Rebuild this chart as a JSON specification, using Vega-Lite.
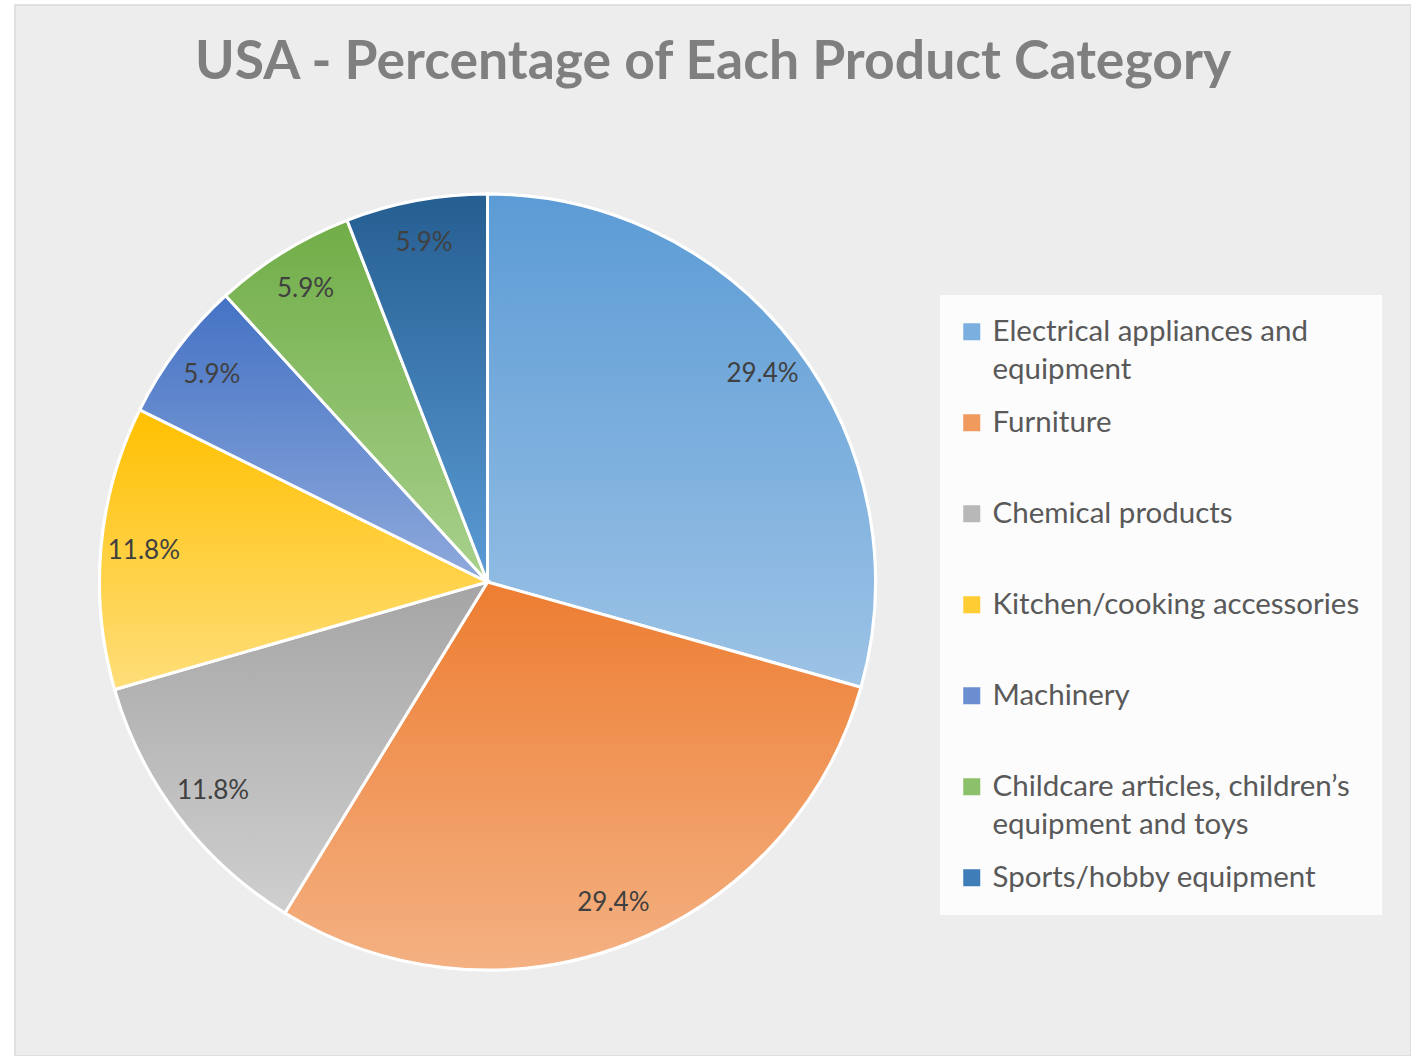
{
  "$schema": "https://vega.github.io/schema/vega-lite/v6.json",
  "width": 1396,
  "height": 1051,
  "autosize": {"type": "none"},
  "padding": {"left": 15, "top": 5, "right": 0, "bottom": 0},
  "background": "white",
  "config": {
    "view": {"fill": "#EDEDED", "stroke": "#D9D9D9", "strokeWidth": 1.5},
    "font": "Lato",
    "style": {"guide-label": {"dy": -19, "lineHeight": 38}}
  },
  "title": {
    "text": "USA - Percentage of Each Product Category",
    "orient": "top",
    "anchor": "middle",
    "frame": "group",
    "offset": -127,
    "baseline": "alphabetic",
    "fontSize": 53.5,
    "fontWeight": "bold",
    "color": "#7F7F7F",
    "font": "Lato"
  },
  "data": {
    "values": [
      {"category": "Electrical appliances and equipment", "share": 0.294, "rank": 1},
      {"category": "Furniture", "share": 0.294, "rank": 2},
      {"category": "Chemical products", "share": 0.118, "rank": 3},
      {"category": "Kitchen/cooking accessories", "share": 0.118, "rank": 4},
      {"category": "Machinery", "share": 0.059, "rank": 5},
      {"category": "Childcare articles, children’s equipment and toys", "share": 0.059, "rank": 6},
      {"category": "Sports/hobby equipment", "share": 0.059, "rank": 7}
    ]
  },
  "encoding": {
    "theta": {"field": "share", "type": "quantitative", "stack": true},
    "order": {"field": "rank", "type": "quantitative"},
    "x": {"value": 472.5},
    "y": {"value": 577}
  },
  "layer": [
    {
      "mark": {"type": "arc", "outerRadius": 388, "stroke": "white", "strokeWidth": 3},
      "encoding": {
        "color": {
          "field": "category",
          "type": "nominal",
          "scale": {
            "domain": [
              "Electrical appliances and equipment",
              "Furniture",
              "Chemical products",
              "Kitchen/cooking accessories",
              "Machinery",
              "Childcare articles, children’s equipment and toys",
              "Sports/hobby equipment"
            ],
            "range": ["#7BAFE0", "#F09A5E", "#B8B8B8", "#FFCC33", "#6A8ED0", "#8CC06A", "#3F7DB8"]
          },
          "legend": {
            "title": null,
            "orient": "none",
            "legendX": 925,
            "legendY": 290,
            "symbolType": "square",
            "symbolSize": 289,
            "symbolStrokeWidth": 0,
            "labelFontSize": 29.5,
            "labelColor": "#595959",
            "labelFont": "Lato",
            "labelLimit": 500,
            "labelOffset": 6,
            "symbolOffset": -5,
            "padding": 22,
            "fillColor": "rgba(255,255,255,0.8)",
            "rowPadding": 22,
            "gridAlign": "all",
            "labelBaseline": "line-top",
            "labelExpr": "datum.label == 'Electrical appliances and equipment' ? ['Electrical appliances and', 'equipment'] : datum.label == 'Childcare articles, children’s equipment and toys' ? ['Childcare articles, children’s', 'equipment and toys'] : datum.label"
          }
        }
      }
    },
    {
      "mark": {"type": "arc", "outerRadius": 388, "stroke": "white", "strokeWidth": 3},
      "encoding": {
        "fill": {
          "condition": [
            {"test": "datum.rank == 1", "value": {"gradient": "linear", "x1": 0, "y1": 0, "x2": 0, "y2": 1, "stops": [{"offset": 0, "color": "#5B9BD5"}, {"offset": 1, "color": "#9DC3E6"}]}},
            {"test": "datum.rank == 2", "value": {"gradient": "linear", "x1": 0, "y1": 0, "x2": 0, "y2": 1, "stops": [{"offset": 0, "color": "#ED7D31"}, {"offset": 1, "color": "#F4B183"}]}},
            {"test": "datum.rank == 3", "value": {"gradient": "linear", "x1": 0, "y1": 0, "x2": 0, "y2": 1, "stops": [{"offset": 0, "color": "#A5A5A5"}, {"offset": 1, "color": "#CFCFCF"}]}},
            {"test": "datum.rank == 4", "value": {"gradient": "linear", "x1": 0, "y1": 0, "x2": 0, "y2": 1, "stops": [{"offset": 0, "color": "#FFC000"}, {"offset": 1, "color": "#FFDE7A"}]}},
            {"test": "datum.rank == 5", "value": {"gradient": "linear", "x1": 0, "y1": 0, "x2": 0, "y2": 1, "stops": [{"offset": 0, "color": "#4472C4"}, {"offset": 1, "color": "#8FAADC"}]}},
            {"test": "datum.rank == 6", "value": {"gradient": "linear", "x1": 0, "y1": 0, "x2": 0, "y2": 1, "stops": [{"offset": 0, "color": "#70AD47"}, {"offset": 1, "color": "#A9D18E"}]}}
          ],
          "value": {"gradient": "linear", "x1": 0, "y1": 0, "x2": 0, "y2": 1, "stops": [{"offset": 0, "color": "#255E91"}, {"offset": 1, "color": "#5B9BD5"}]}
        }
      }
    },
    {
      "mark": {"type": "text", "radius": 345, "fontSize": 26, "color": "#404040", "font": "Lato"},
      "encoding": {
        "text": {"field": "share", "type": "quantitative", "format": ".1%"}
      }
    }
  ]
}
